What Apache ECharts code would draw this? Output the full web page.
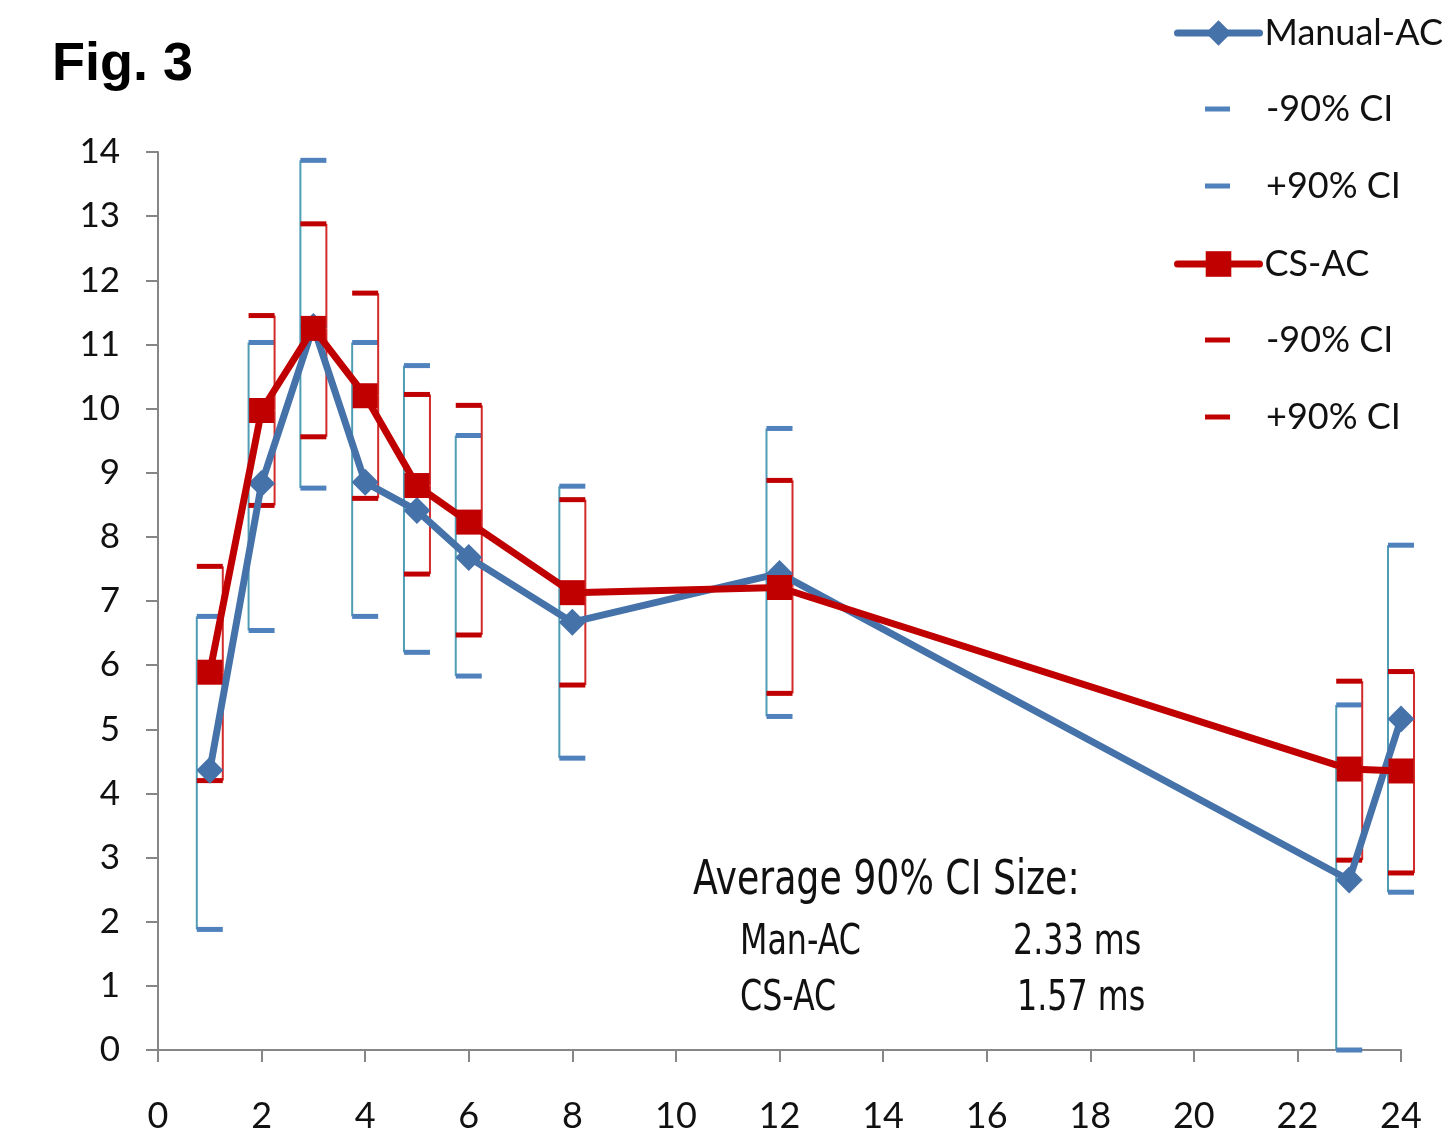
<!DOCTYPE html>
<html>
<head>
<meta charset="utf-8">
<script src="https://cdn.jsdelivr.net/npm/echarts@6/dist/echarts.min.js"></script>
<style>
  html, body { margin: 0; padding: 0; background: #fff; }
  #chart { width: 1453px; height: 1130px; }
</style>
</head>
<body>
<div id="chart"></div>
<script>
// hours after dose (x)
const hours = [1, 2, 3, 4, 5, 6, 8, 12, 23, 24];
const xTicks = [0, 2, 4, 6, 8, 10, 12, 14, 16, 18, 20, 22, 24];
const yTicks = [0, 1, 2, 3, 4, 5, 6, 7, 8, 9, 10, 11, 12, 13, 14];

const manualAC   = [4.36, 8.83, 11.28, 8.85, 8.41, 7.68, 6.67, 7.43, 2.65, 5.16];
const manualLow  = [1.88, 6.54, 8.76, 6.76, 6.20, 5.83, 4.55, 5.20, 0.00, 2.46];
const manualHigh = [6.76, 11.03, 13.87, 11.03, 10.67, 9.58, 8.79, 9.69, 5.38, 7.87];

const csAC   = [5.89, 9.97, 11.25, 10.20, 8.80, 8.23, 7.13, 7.21, 4.38, 4.35];
const csLow  = [4.20, 8.49, 9.56, 8.60, 7.42, 6.47, 5.69, 5.56, 2.96, 2.76];
const csHigh = [7.54, 11.45, 12.88, 11.80, 10.22, 10.05, 8.58, 8.88, 5.75, 5.90];

const BLUE = '#4672aa';
const BLUE_CAP = '#4f81bd';
const BLUE_STEM = '#4f9db4';
const RED = '#c00000';
const RED_STEM = '#d32a2a';

const chart = echarts.init(document.getElementById('chart'));

// one half of the bracket: stem from the mean to the limit, plus a cap
function errorHalf(stemOffset, stemColor, capColor) {
  return function (params, api) {
    const x = api.value(0);
    const c = api.coord([x, api.value(1)]);
    const e = api.coord([x, api.value(2)]);
    const sx = c[0] + stemOffset;
    return {
      type: 'group',
      children: [
        { type: 'line', shape: { x1: sx, y1: c[1], x2: sx, y2: e[1] },
          style: { stroke: stemColor, lineWidth: 2 } },
        { type: 'line', shape: { x1: c[0] - 13, y1: e[1], x2: c[0] + 13, y2: e[1] },
          style: { stroke: capColor, lineWidth: 5 } }
      ]
    };
  };
}

function errData(mean, lim) {
  return hours.map((h, i) => [h, mean[i], lim[i]]);
}

const legendFont = { fontFamily: 'Lato', fontSize: 36, color: '#111', lineHeight: 40 };
const stripName = name => name.replace(/^(Man|CS) /, '');

function lineLegend(name, top) {
  return {
    data: [name], left: 1174, top: top, padding: 0,
    itemWidth: 82, itemHeight: 32, selectedMode: false,
    lineStyle: { width: 7, cap: 'round' },
    textStyle: legendFont
  };
}
function dashLegend(name, color, top) {
  return {
    data: [{ name: name, icon: 'rect', itemStyle: { color: color } }],
    left: 1205, top: top, padding: 0,
    itemWidth: 25, itemHeight: 5, selectedMode: false,
    formatter: stripName,
    textStyle: Object.assign({ padding: [0, 0, 0, 31] }, legendFont)
  };
}

const narrow = '"Liberation Sans Narrow", "DejaVu Sans Condensed", sans-serif';
function note(text, left, top, size) {
  return { type: 'text', left: left, top: top, scaleX: 0.84, originX: 0,
    style: { text: text, font: size + 'px ' + narrow, fill: '#111' } };
}

chart.setOption({
  animation: false,
  backgroundColor: '#fff',
  grid: { left: 158, right: 52, top: 152, bottom: 80, outerBoundsMode: 'none' },
  legend: [
    lineLegend('Manual-AC', 13),
    dashLegend('Man -90% CI', BLUE_CAP, 89),
    dashLegend('Man +90% CI', BLUE_CAP, 166),
    lineLegend('CS-AC', 244),
    dashLegend('CS -90% CI', RED, 320),
    dashLegend('CS +90% CI', RED, 397)
  ],
  xAxis: {
    type: 'value', min: xTicks[0], max: xTicks[xTicks.length - 1], interval: 2,
    splitLine: { show: false },
    axisLine: { lineStyle: { color: '#868686', width: 2 } },
    axisTick: { length: 12, lineStyle: { color: '#868686', width: 2 } },
    axisLabel: { margin: 48, fontFamily: 'Lato', fontSize: 36, color: '#111' }
  },
  yAxis: {
    type: 'value', min: yTicks[0], max: yTicks[yTicks.length - 1], interval: 1,
    splitLine: { show: false },
    axisLine: { show: true, lineStyle: { color: '#868686', width: 2 } },
    axisTick: { show: true, length: 12, lineStyle: { color: '#868686', width: 2 } },
    axisLabel: { margin: 38, fontFamily: 'Lato', fontSize: 35, color: '#111' }
  },
  graphic: [
    { type: 'text', left: 52, top: 38,
      style: { text: 'Fig. 3', font: 'bold 54px "Liberation Sans", Arial, sans-serif', fill: '#000' } },
    note('Average 90% CI Size:', 693, 858, 48),
    note('Man-AC', 740, 922, 42),
    note('2.33 ms', 1013, 922, 42),
    note('CS-AC', 740, 978, 42),
    note('1.57 ms', 1017, 978, 42)
  ],
  series: [
    { name: 'Man -90% CI', type: 'custom', z: 1, clip: false,
      itemStyle: { color: BLUE_CAP },
      renderItem: errorHalf(-13, BLUE_STEM, BLUE_CAP), data: errData(manualAC, manualLow) },
    { name: 'Man +90% CI', type: 'custom', z: 1, clip: false,
      itemStyle: { color: BLUE_CAP },
      renderItem: errorHalf(-13, BLUE_STEM, BLUE_CAP), data: errData(manualAC, manualHigh) },
    { name: 'CS -90% CI', type: 'custom', z: 1, clip: false,
      itemStyle: { color: RED },
      renderItem: errorHalf(13, RED_STEM, RED), data: errData(csAC, csLow) },
    { name: 'CS +90% CI', type: 'custom', z: 1, clip: false,
      itemStyle: { color: RED },
      renderItem: errorHalf(13, RED_STEM, RED), data: errData(csAC, csHigh) },
    { name: 'Manual-AC', type: 'line', z: 3,
      symbol: 'diamond', symbolSize: 27,
      lineStyle: { color: BLUE, width: 7 },
      itemStyle: { color: BLUE },
      data: hours.map((h, i) => [h, manualAC[i]]) },
    { name: 'CS-AC', type: 'line', z: 4,
      symbol: 'rect', symbolSize: 25,
      lineStyle: { color: RED, width: 7 },
      itemStyle: { color: RED },
      data: hours.map((h, i) => [h, csAC[i]]) }
  ]
});
</script>
</body>
</html>
